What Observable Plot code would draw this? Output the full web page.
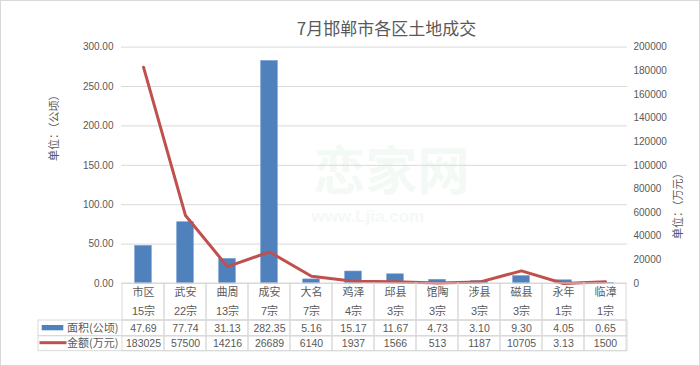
<!DOCTYPE html>
<html>
<head>
<meta charset="utf-8">
<script src="https://cdn.jsdelivr.net/npm/d3@7"></script>
<script src="https://cdn.jsdelivr.net/npm/@observablehq/plot@0.6"></script>
<style>
  body { margin: 0; background: #fff; }
  #chart svg { outline: 1px solid #d9d9d9; outline-offset: -1px; }
</style>
</head>
<body>
<div id="chart"></div>
<script>
const title = "7月邯郸市各区土地成交";
const cats = ["市区","武安","曲周","成安","大名","鸡泽","邱县","馆陶","涉县","磁县","永年","临漳"];
const counts = ["15宗","22宗","13宗","7宗","7宗","4宗","3宗","3宗","3宗","3宗","1宗","1宗"];
const area = [47.69,77.74,31.13,282.35,5.16,15.17,11.67,4.73,3.10,9.30,4.05,0.65];
const amount = [183025,57500,14216,26689,6140,1937,1566,513,1187,10705,3.13,1500];
const leftTicks = [0,50,100,150,200,250,300];
const rightTicks = [0,20000,40000,60000,80000,100000,120000,140000,160000,180000,200000];
const seriesNames = ["面积(公顷)","金额(万元)"];
const axisTitles = ["单位：（公顷）","单位：（万元）"];
const watermark = ["恋家网","www.Ljia.com"];

const S = 300 / 200000; // right axis -> left axis units
const rows = cats.map((c, i) => ({cat: c, count: counts[i], area: area[i], amount: amount[i], amountScaled: amount[i] * S}));

// pixel geometry of the plot area
const W = 700, H = 366;
const mL = 121, mR = 73, yTop = 46.6, y0 = 283;
const K = (y0 - yTop) / 300;
const u = px => (y0 - px) / K; // pixel row -> y-scale units (for table below axis)

const grey = "#595959", line = "#d9d9d9";
const blue = "#4f81bd", red = "#c0504d";
const numFont = "'Liberation Sans','Noto Sans CJK SC',sans-serif";
const cjkFont = "'Noto Sans CJK SC','Liberation Sans',sans-serif";

const chart = Plot.plot({
  width: W, height: H,
  marginLeft: mL, marginRight: mR, marginTop: yTop, marginBottom: H - y0,
  style: {fontFamily: numFont, fontSize: "10px", color: grey, background: "#fff"},
  x: {domain: cats, padding: 0, axis: null},
  y: {domain: [0, 300], range: [y0, yTop], axis: null},
  marks: [
    // very faint watermark
    Plot.text([watermark[0]], {frameAnchor: "top-left", lineAnchor: "middle", dx: 313 - mL, dy: 173 - yTop, fontSize: 52, fontWeight: "bold", fill: "#f3f9f4", fontFamily: cjkFont}),
    Plot.text([watermark[1]], {frameAnchor: "top-left", lineAnchor: "middle", dx: 311 - mL, dy: 216 - yTop, fontSize: 17, fontWeight: "bold", fill: "#f3f9f4", fontFamily: numFont}),
    // grid
    Plot.ruleY(leftTicks.filter(d => d > 0), {stroke: line, strokeWidth: 1}),
    Plot.ruleY([0], {stroke: line, strokeWidth: 1}),
    // bars
    Plot.barY(rows, {x: "cat", y: "area", fill: blue, stroke: "#6f9bd1", strokeWidth: 0.6, insetLeft: 12.7, insetRight: 12.7}),
    // line
    Plot.lineY(rows, {x: "cat", y: "amountScaled", stroke: red, strokeWidth: 3, strokeLinejoin: "miter"}),
    // table: header cells and data cells
    Plot.barY(rows, {x: "cat", y1: 0, y2: u(320), fill: "none", stroke: line, strokeWidth: 1}),
    Plot.barY(rows, {x: "cat", y1: u(320), y2: u(335.7), fill: "none", stroke: line, strokeWidth: 1}),
    Plot.barY(rows, {x: "cat", y1: u(335.7), y2: u(350.7), fill: "none", stroke: line, strokeWidth: 1}),
    Plot.rect([0], {y1: u(320), y2: u(335.7), insetLeft: -(mL - 38), fill: "none", stroke: line, strokeWidth: 1}),
    Plot.rect([0], {y1: u(335.7), y2: u(350.7), insetLeft: -(mL - 38), fill: "none", stroke: line, strokeWidth: 1}),
    // table texts
    Plot.text(rows, {x: "cat", y: u(291.7), text: "cat", fontSize: 11, fill: grey, fontFamily: cjkFont}),
    Plot.text(rows, {x: "cat", y: u(310.7), text: "count", fontSize: 11, fill: grey, fontFamily: numFont}),
    Plot.text(rows, {x: "cat", y: u(327.8), text: d => d.area.toFixed(2), fontSize: 10.5, fill: grey}),
    Plot.text(rows, {x: "cat", y: u(343.2), text: d => String(d.amount), fontSize: 10.5, fill: grey}),
    // legend swatches and labels
    Plot.rect([0], {y1: u(330.3), y2: u(325), insetLeft: -(mL - 41.7), insetRight: (W - mR) - 63.3, fill: blue}),
    Plot.rect([0], {y1: u(344.2), y2: u(341.2), insetLeft: -(mL - 39.5), insetRight: (W - mR) - 66.5, fill: red}),
    Plot.text([seriesNames[0]], {frameAnchor: "left", y: u(327.8), dx: -3, textAnchor: "end", fontSize: 11, fill: grey, fontFamily: cjkFont}),
    Plot.text([seriesNames[1]], {frameAnchor: "left", y: u(343.2), dx: -3, textAnchor: "end", fontSize: 11, fill: grey, fontFamily: cjkFont}),
    // axes
    Plot.axisY(leftTicks, {anchor: "left", tickSize: 0, tickPadding: 8, tickFormat: d => d.toFixed(2), label: null, fontSize: 10, fill: grey}),
    Plot.axisY(rightTicks.map(v => v * S), {anchor: "right", tickSize: 0, tickPadding: 6, tickFormat: d => String(Math.round(d / S)), label: null, fontSize: 10, fill: grey}),
    // axis titles
    Plot.text([axisTitles[0]], {frameAnchor: "left", dx: 54 - mL, dy: 160.5 - (yTop + y0) / 2, rotate: -90, fontSize: 11, fill: grey, fontFamily: cjkFont}),
    Plot.text([axisTitles[1]], {frameAnchor: "right", dx: 678 - (W - mR), dy: 167 - (yTop + y0) / 2, rotate: -90, fontSize: 11, fill: grey, fontFamily: cjkFont}),
    // title
    Plot.text([title], {frameAnchor: "top", lineAnchor: "middle", dx: 386 - (mL + W - mR) / 2, dy: 29.5 - yTop, fontSize: 17, fill: grey, fontFamily: cjkFont})
  ]
});
document.getElementById("chart").appendChild(chart);
</script>
</body>
</html>
